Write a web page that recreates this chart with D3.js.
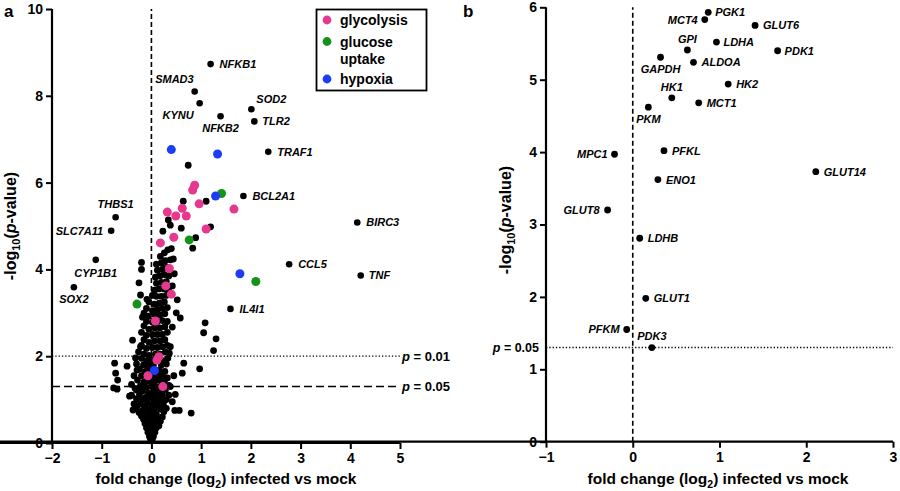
<!DOCTYPE html>
<html><head><meta charset="utf-8">
<script src="https://cdn.jsdelivr.net/npm/d3@7"></script>
<style>
body{margin:0;background:#fff;}
svg{display:block;font-family:"Liberation Sans",Arial,sans-serif;}
</style></head>
<body><svg id="c" width="900" height="491"></svg>
<script>
// ---------- DATA ----------
// Panel a: labelled genes [gene, log2 fold change, -log10 p]
const labeledGenesA = [
  ["NFKB1",1.19,8.73],["SMAD3",0.87,8.10],["KYNU",0.97,7.83],["NFKB2",1.39,7.53],
  ["SOD2",2.01,7.69],["TLR2",2.07,7.41],["TRAF1",2.35,6.71],["BCL2A1",1.85,5.69],
  ["BIRC3",4.14,5.08],["CCL5",2.77,4.12],["TNF",4.21,3.86],["IL4I1",1.59,3.09],
  ["THBS1",-0.72,5.20],["SLC7A11",-0.81,4.89],["CYP1B1",-1.12,4.22],["SOX2",-1.56,3.59]
];
const glycolysisA = [[0.87,5.94],[0.83,5.83],[0.96,5.51],[1.66,5.39],[0.62,5.41],[0.32,5.32],
  [0.49,5.23],[0.70,5.23],[1.10,4.93],[0.45,4.74],[0.18,4.61],[0.36,4.02],[0.29,3.62],
  [0.40,3.43],[0.08,2.81],[0.15,1.99],[0.11,1.91],[-0.07,1.55],[0.23,1.30]];
const glucoseUptakeA = [[1.41,5.75],[0.76,4.68],[2.10,3.72],[-0.29,3.20]];
const hypoxiaA = [[0.40,6.76],[1.33,6.66],[1.29,5.69],[1.78,3.90],[0.06,1.67]];
const otherGenesA = [
  [0.74,6.40],[0.64,5.57],[1.10,5.57],[1.19,4.98],[0.34,5.14],[0.23,4.88],[0.60,4.95],
  [0.89,4.73],[0.83,4.49],[0.38,5.02],[0.40,4.48],[0.44,4.24],[0.42,3.62],[0.52,3.30],
  [0.58,2.88],[0.42,2.67],[1.08,2.77],[1.05,2.54],[1.30,2.40],[1.25,2.13],[0.97,1.71],
  [0.65,1.84],[0.62,1.61],[0.80,0.69],[0.38,2.22],[0.36,2.07],[0.56,0.75],[0.47,0.75],[0.35,1.33],
  [0.45,1.55],[0.48,1.12],[0.42,0.95],[0.5,3.0],[0.46,3.9],
  [-0.74,1.84],[-0.72,1.61],[-0.68,1.45],[-0.76,1.27],[-0.69,1.24],[-0.49,1.77],[-0.44,1.08],
  [-0.38,2.37],[-0.32,1.96],[-0.22,2.22],[-0.29,1.68],[-0.33,1.26],[-0.20,4.16],[-0.20,4.00],
  [-0.25,3.69],[-0.22,3.41],[-0.09,3.31],[-0.15,2.99],[-0.37,0.76],[-0.30,0.86],
  [0,0.05],[0.02,0.1],[-0.02,0.1],[-0.04,0.15],[0.04,0.15],[0,0.2],
  [-0.07,0.25],[0.07,0.25],[-0.02,0.3],[0.03,0.3],[-0.1,0.35],[0.1,0.35],[-0.05,0.4],[0.05,0.4],[0.15,0.4],
  [-0.13,0.45],[0.13,0.45],[0,0.45],[-0.08,0.5],[0.08,0.5],[0.18,0.5],
  [-0.16,0.55],[-0.03,0.55],[0.04,0.58],[0.16,0.55],[0.22,0.6],[-0.2,0.62],
  [-0.1,0.65],[0.1,0.66],[0,0.68],[-0.25,0.7],[0.25,0.72],
  [-0.18,0.75],[-0.06,0.76],[0.06,0.78],[0.18,0.78],[0.3,0.8],[-0.3,0.82],
  [-0.13,0.85],[0,0.86],[0.12,0.88],[0.24,0.9],[-0.22,0.9],[-0.35,0.9],
  [-0.08,0.95],[0.05,0.96],[0.17,0.98],[-0.18,1.0],[0.3,1.0],[-0.3,1.02],
  [-0.12,1.05],[0,1.06],[0.1,1.08],[0.22,1.1],[-0.24,1.12],[0.35,1.1],[-0.4,1.1],
  [-0.06,1.15],[0.05,1.18],[0.16,1.2],[-0.18,1.2],[0.28,1.22],[-0.3,1.22],
  [-0.1,1.28],[0,1.3],[0.1,1.3],[0.2,1.32],[-0.22,1.32],[0.38,1.3],[-0.4,1.35],
  [-0.15,1.4],[-0.04,1.42],[0.06,1.42],[0.15,1.45],[0.26,1.42],[-0.28,1.45],
  [-0.08,1.52],[0.02,1.55],[0.12,1.55],[0.22,1.55],[-0.2,1.55],[0.32,1.5],[-0.35,1.55],
  [-0.12,1.65],[-0.02,1.66],[0.16,1.68],[0.27,1.65],[-0.24,1.7],
  [-0.06,1.78],[0.04,1.8],[0.2,1.8],[-0.16,1.8],[0.3,1.82],[-0.3,1.82],
  [-0.1,1.9],[0,1.92],[0.24,1.9],[-0.2,1.95],[0.33,1.95],
  [-0.05,2.02],[0.08,2.05],[0.18,2.05],[-0.15,2.05],[0.28,2.1],[-0.26,2.1],
  [-0.1,2.18],[0.02,2.2],[0.12,2.2],[0.22,2.22],[-0.2,2.25],[0.32,2.25],
  [-0.05,2.32],[0.06,2.35],[0.17,2.35],[0.27,2.38],[-0.15,2.38],
  [-0.1,2.48],[0.02,2.5],[0.12,2.5],[0.22,2.5],[0.32,2.55],[-0.2,2.55],
  [-0.05,2.62],[0.07,2.65],[0.17,2.65],[0.27,2.68],[-0.15,2.7],
  [-0.1,2.8],[0.02,2.78],[0.12,2.8],[0.22,2.82],[0.32,2.8],
  [-0.06,2.92],[0.07,2.95],[0.17,2.95],[0.27,2.98],[-0.18,2.9],
  [0.02,3.05],[0.12,3.08],[0.22,3.1],[0.32,3.12],[-0.1,3.1],
  [0.06,3.2],[0.16,3.22],[0.26,3.25],[-0.05,3.25],
  [0.1,3.38],[0.2,3.38],[0.3,3.4],[0.02,3.4],
  [0.06,3.52],[0.15,3.55],[0.25,3.55],[0.35,3.5],
  [0.1,3.68],[0.2,3.7],[0.3,3.72],
  [0.08,3.82],[0.17,3.85],[0.26,3.88],[0.35,3.85],
  [0.12,3.98],[0.22,4.0],[0.3,4.05],
  [0.1,4.12],[0.2,4.15],[0.28,4.2],[0.38,4.22],
  [0.18,4.3],[0.26,4.38],[0.33,4.45]
];
const xTicksA = [-2,-1,0,1,2,3,4,5];
const yTicksA = [0,2,4,6,8,10];
const legendItems = [["glycolysis"],["glucose","uptake"],["hypoxia"]];

// Panel b: glucose metabolism genes [gene, log2 fold change, -log10 p]
const genesB = [
  ["PGK1",0.87,5.93],["MCT4",0.83,5.83],["GLUT6",1.41,5.75],["LDHA",0.965,5.52],
  ["GPI",0.63,5.41],["PDK1",1.67,5.40],["GAPDH",0.32,5.31],["ALDOA",0.70,5.24],
  ["HK2",1.10,4.94],["HK1",0.45,4.75],["MCT1",0.76,4.68],["PKM",0.18,4.62],
  ["PFKL",0.36,4.02],["MPC1",-0.21,3.97],["GLUT14",2.11,3.73],["ENO1",0.29,3.62],
  ["GLUT8",-0.29,3.20],["LDHB",0.08,2.81],["GLUT1",0.15,1.98],["PFKM",-0.07,1.55],
  ["PDK3",0.22,1.30]
];
const xTicksB = [-1,0,1,2,3];
const yTicksB = [0,1,2,3,4,5,6];

// ---------- LAYOUT / STYLE ----------
const colors = {glycolysis:"#e5388e", glucose:"#15921a", hypoxia:"#1d3cf5"};
const placeA = {NFKB1:[9,0,"start"],SMAD3:[-1,-12,"end"],KYNU:[-6,12,"end"],NFKB2:[0,12,"middle"],
  SOD2:[5,-10,"start"],TLR2:[8,0,"start"],TRAF1:[9,0,"start"],BCL2A1:[9,0,"start"],BIRC3:[9,0,"start"],
  CCL5:[9,0,"start"],TNF:[8,0,"start"],IL4I1:[9,0,"start"],THBS1:[0,-13,"middle"],
  SLC7A11:[-8,0,"end"],CYP1B1:[0,13,"middle"],SOX2:[0,12,"middle"]};
const placeB = {PGK1:[7,0,"start"],MCT4:[-7,0,"end"],GLUT6:[8,0,"start"],LDHA:[7,0,"start"],
  GPI:[0,-11,"middle"],PDK1:[7,0,"start"],GAPDH:[0,12,"middle"],ALDOA:[8,0,"start"],HK2:[8,0,"start"],
  HK1:[0,-11,"middle"],MCT1:[8,0,"start"],PKM:[0,12,"middle"],PFKL:[8,0,"start"],MPC1:[-7,0,"end"],
  GLUT14:[8,0,"start"],ENO1:[8,0,"start"],GLUT8:[-8,0,"end"],LDHB:[8,0,"start"],GLUT1:[8,0,"start"],
  PFKM:[-7,0,"end"],PDK3:[0,-12,"middle"]};

const svg = d3.select("#c");

function axes(g, x, y, xt, yt){
  const ax = g.append("g").attr("transform",`translate(0,${y.range()[0]})`)
    .call(d3.axisBottom(x).tickValues(xt).tickSize(6).tickSizeOuter(0).tickPadding(4).tickFormat(d3.format("d")));
  const ay = g.append("g").attr("transform",`translate(${x.range()[0]},0)`)
    .call(d3.axisLeft(y).tickValues(yt).tickSize(6).tickSizeOuter(0).tickPadding(3).tickFormat(d3.format("d")));
  [ax,ay].forEach(a=>{
    a.select(".domain").attr("stroke","#000").attr("stroke-width",2.2);
    a.selectAll(".tick line").attr("stroke","#000").attr("stroke-width",2);
    a.selectAll(".tick text").attr("fill","#000").style("font-size","14px").style("font-weight","bold");
  });
  ay.select(".domain").attr("d",`M0,${y.range()[0]+1}V${y.range()[1]}`);
  ax.select(".domain").attr("d",`M-1,0H${x.range()[1]}`);
}

function titles(g, cx, ty, yx, cy){
  const t = g.append("text").attr("x",cx).attr("y",ty).attr("text-anchor","middle")
    .style("font-size","15.5px").style("font-weight","bold");
  t.append("tspan").text("fold change (log");
  t.append("tspan").text("2").attr("dy",4).style("font-size","10.5px");
  t.append("tspan").text(") infected vs mock").attr("dy",-4);
  const u = g.append("text").attr("transform",`translate(${yx},${cy}) rotate(-90)`).attr("text-anchor","middle")
    .style("font-size","16px").style("font-weight","bold");
  u.append("tspan").text("-log");
  u.append("tspan").text("10").attr("dy",4).style("font-size","11px");
  u.append("tspan").text("(").attr("dy",-4);
  u.append("tspan").text("p").style("font-style","italic");
  u.append("tspan").text("-value)");
}

function labels(g, data, x, y, place){
  g.selectAll(null).data(data).join("text")
    .attr("x",d=>x(d[1])+place[d[0]][0]).attr("y",d=>y(d[2])+place[d[0]][1])
    .attr("dy","0.36em").attr("text-anchor",d=>place[d[0]][2])
    .style("font-size","11px").style("font-weight","bold").style("font-style","italic")
    .text(d=>d[0]);
}

// ---------- PANEL A ----------
const xa = d3.scaleLinear([-2,5],[52,400]);
const ya = d3.scaleLinear([0,10],[443,9]);
const ga = svg.append("g");
ga.append("line").attr("x1",xa(0)).attr("x2",xa(0)).attr("y1",ya(0)).attr("y2",ya(10))
  .attr("stroke","#000").attr("stroke-width",1.6).attr("stroke-dasharray","5,3");
ga.append("line").attr("x1",xa(-2)).attr("x2",xa(5)).attr("y1",ya(2)).attr("y2",ya(2))
  .attr("stroke","#000").attr("stroke-width",1.3).attr("stroke-dasharray","1.3,2");
ga.append("line").attr("x1",xa(-2)).attr("x2",xa(5)).attr("y1",ya(-Math.log10(0.05))).attr("y2",ya(-Math.log10(0.05)))
  .attr("stroke","#000").attr("stroke-width",1.6).attr("stroke-dasharray","8,4");
[[0.01,"0.01"],[0.05,"0.05"]].forEach(([p,s])=>{
  const t = ga.append("text").attr("x",402).attr("y",ya(-Math.log10(p))).attr("dy","0.36em")
    .style("font-size","13px").style("font-weight","bold");
  t.append("tspan").text("p").style("font-style","italic");
  t.append("tspan").text(" = "+s);
});
ga.selectAll(null).data(otherGenesA).join("circle").attr("cx",d=>xa(d[0])).attr("cy",d=>ya(d[1])).attr("r",3.4).attr("fill","#000");
ga.selectAll(null).data(labeledGenesA).join("circle").attr("cx",d=>xa(d[1])).attr("cy",d=>ya(d[2])).attr("r",3.3).attr("fill","#000");
ga.selectAll(null).data(glycolysisA).join("circle").attr("cx",d=>xa(d[0])).attr("cy",d=>ya(d[1])).attr("r",4.5).attr("fill",colors.glycolysis);
ga.selectAll(null).data(glucoseUptakeA).join("circle").attr("cx",d=>xa(d[0])).attr("cy",d=>ya(d[1])).attr("r",4.5).attr("fill",colors.glucose);
ga.selectAll(null).data(hypoxiaA).join("circle").attr("cx",d=>xa(d[0])).attr("cy",d=>ya(d[1])).attr("r",4.5).attr("fill",colors.hypoxia);
labels(ga, labeledGenesA, xa, ya, placeA);
axes(ga, xa, ya, xTicksA, yTicksA);
titles(ga, 226, 484, 16, 226);
ga.append("text").attr("x",4).attr("y",17).text("a").style("font-size","17px").style("font-weight","bold");

// legend
const lg = ga.append("g");
lg.append("rect").attr("x",316.5).attr("y",9.5).attr("width",110).attr("height",81)
  .attr("fill","#fff").attr("stroke","#000").attr("stroke-width",1.8);
const legCols = [colors.glycolysis, colors.glucose, colors.hypoxia];
const legY = [20, 41.5, 79];
legendItems.forEach((lines,i)=>{
  lg.append("circle").attr("cx",327).attr("cy",legY[i]).attr("r",4.4).attr("fill",legCols[i]);
  lines.forEach((s,j)=>lg.append("text").attr("x",340).attr("y",legY[i]+j*17).attr("dy","0.36em")
    .style("font-size","14px").style("font-weight","bold").text(s));
});

// ---------- PANEL B ----------
const xb = d3.scaleLinear([-1,3],[546,893]);
const yb = d3.scaleLinear([0,6],[441.7,7.3]);
const gb = svg.append("g");
gb.append("line").attr("x1",xb(0)).attr("x2",xb(0)).attr("y1",yb(0)).attr("y2",yb(6))
  .attr("stroke","#000").attr("stroke-width",1.6).attr("stroke-dasharray","5,3");
gb.append("line").attr("x1",xb(-1)).attr("x2",xb(3)).attr("y1",yb(-Math.log10(0.05))).attr("y2",yb(-Math.log10(0.05)))
  .attr("stroke","#000").attr("stroke-width",1.3).attr("stroke-dasharray","1.3,2");
{
  const t = gb.append("text").attr("x",539).attr("y",yb(-Math.log10(0.05))).attr("dy","0.36em").attr("text-anchor","end")
    .style("font-size","12.5px").style("font-weight","bold");
  t.append("tspan").text("p").style("font-style","italic");
  t.append("tspan").text(" = 0.05");
}
gb.selectAll(null).data(genesB).join("circle").attr("cx",d=>xb(d[1])).attr("cy",d=>yb(d[2])).attr("r",3.4).attr("fill","#000");
labels(gb, genesB, xb, yb, placeB);
axes(gb, xb, yb, xTicksB, yTicksB);
titles(gb, 718, 484, 511, 220);
gb.append("text").attr("x",463).attr("y",17).text("b").style("font-size","17px").style("font-weight","bold");
</script></body></html>
